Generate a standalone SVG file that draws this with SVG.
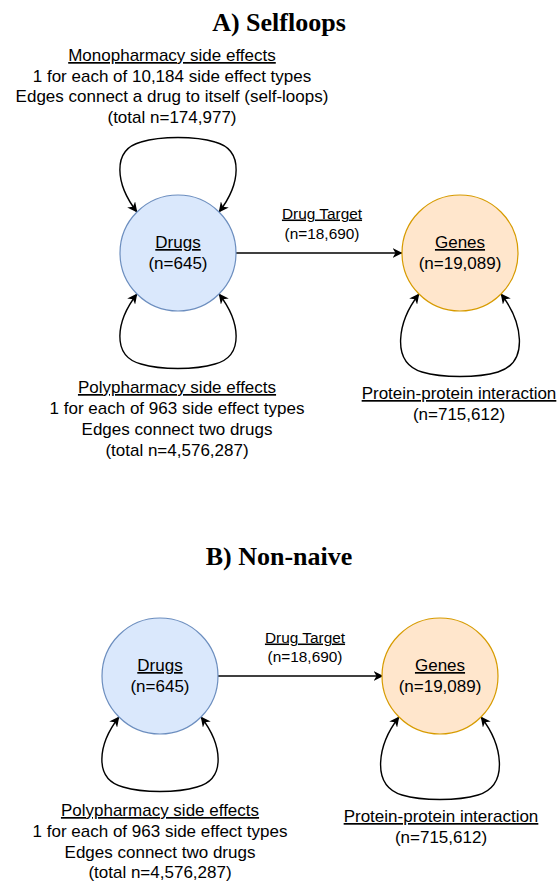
<svg xmlns="http://www.w3.org/2000/svg" width="560" height="882" viewBox="0 0 560 882">
  <style>
    .title { font-family: "Liberation Serif", "Times New Roman", serif; font-weight: bold; font-size: 26px; fill: #000; text-anchor: middle; }
    .lbl { font-family: "Liberation Sans", Arial, Helvetica, sans-serif; font-size: 17px; fill: #000; text-anchor: middle; }
    .small { font-family: "Liberation Sans", Arial, Helvetica, sans-serif; font-size: 15.4px; fill: #000; text-anchor: middle; }
    .u { text-decoration: underline; }
    .drug { fill: #dae8fc; stroke: #6c8ebf; stroke-width: 1.2; }
    .gene { fill: #ffe6cc; stroke: #d79b00; stroke-width: 1.2; }
    .edge { fill: none; stroke: #000; stroke-width: 1.4; }
  </style>
  <defs>
    <marker id="arrow" viewBox="0 0 10 10" refX="9.5" refY="5" markerWidth="10" markerHeight="10" markerUnits="userSpaceOnUse" orient="auto-start-reverse">
      <path d="M0,0 L10,5 L0,10 L3,5 Z" fill="#000"/>
    </marker>
  </defs>
  <rect width="560" height="882" fill="#fff"/>

  <!-- Panel A -->
  <text class="title" x="279" y="31">A) Selfloops</text>

  <g id="connectors-a">
    <!-- monopharmacy self-loop -->
    <path class="edge" d="M219,212 C240,185 245,150 215,142 C195,136 161,136 141,142 C111,150 116,185 137,212" marker-start="url(#arrow)" marker-end="url(#arrow)"/>
    <!-- polypharmacy loop -->
    <path class="edge" d="M219,294 C240,321 245,356 215,364 C195,370 161,370 141,364 C111,356 116,321 137,294" marker-start="url(#arrow)" marker-end="url(#arrow)"/>
    <!-- drug target -->
    <path class="edge" d="M236,253 L402,253" marker-end="url(#arrow)"/>
    <!-- protein-protein interaction loop -->
    <path class="edge" d="M501,294 C522,321 530,362 498,372 C478,378 442,378 422,372 C390,362 398,321 419,294" marker-start="url(#arrow)" marker-end="url(#arrow)"/>
  </g>

  <g id="drugs-a">
    <circle class="drug" cx="178" cy="253" r="58"/>
    <text class="lbl" x="178" y="248"><tspan class="u">Drugs</tspan></text>
    <text class="lbl" x="178" y="269">(n=645)</text>
  </g>
  <g id="genes-a">
    <circle class="gene" cx="460" cy="253" r="58"/>
    <text class="lbl" x="460" y="248"><tspan class="u">Genes</tspan></text>
    <text class="lbl" x="460" y="269">(n=19,089)</text>
  </g>

  <g id="labels-a">
    <text class="lbl" x="172" y="61"><tspan class="u">Monopharmacy side effects</tspan></text>
    <text class="lbl" x="172" y="81.7">1 for each of 10,184 side effect types</text>
    <text class="lbl" x="172" y="102.4">Edges connect a drug to itself (self-loops)</text>
    <text class="lbl" x="172" y="123">(total n=174,977)</text>

    <text class="small" x="322" y="218.5"><tspan class="u">Drug Target</tspan></text>
    <text class="small" x="322" y="238.5">(n=18,690)</text>

    <text class="lbl" x="177" y="393"><tspan class="u">Polypharmacy side effects</tspan></text>
    <text class="lbl" x="177" y="414">1 for each of 963 side effect types</text>
    <text class="lbl" x="177" y="435">Edges connect two drugs</text>
    <text class="lbl" x="177" y="456">(total n=4,576,287)</text>

    <text class="lbl" x="459" y="399"><tspan class="u">Protein-protein interaction</tspan></text>
    <text class="lbl" x="459" y="419.5">(n=715,612)</text>
  </g>

  <!-- Panel B -->
  <text class="title" x="279" y="565">B) Non-naive</text>

  <g id="connectors-b">
    <path class="edge" d="M201,717 C222,744 227,779 197,787 C177,793 143,793 123,787 C93,779 98,744 119,717" marker-start="url(#arrow)" marker-end="url(#arrow)"/>
    <path class="edge" d="M218,676 L383,676" marker-end="url(#arrow)"/>
    <path class="edge" d="M481,717 C502,744 510,785 478,795 C458,801 422,801 402,795 C370,785 378,744 399,717" marker-start="url(#arrow)" marker-end="url(#arrow)"/>
  </g>

  <g id="drugs-b">
    <circle class="drug" cx="160" cy="676" r="58"/>
    <text class="lbl" x="160" y="671"><tspan class="u">Drugs</tspan></text>
    <text class="lbl" x="160" y="692">(n=645)</text>
  </g>
  <g id="genes-b">
    <circle class="gene" cx="440" cy="676" r="58"/>
    <text class="lbl" x="440" y="671"><tspan class="u">Genes</tspan></text>
    <text class="lbl" x="440" y="692">(n=19,089)</text>
  </g>

  <g id="labels-b">
    <text class="small" x="305" y="642.5"><tspan class="u">Drug Target</tspan></text>
    <text class="small" x="305" y="662">(n=18,690)</text>

    <text class="lbl" x="160" y="816"><tspan class="u">Polypharmacy side effects</tspan></text>
    <text class="lbl" x="160" y="837">1 for each of 963 side effect types</text>
    <text class="lbl" x="160" y="857.5">Edges connect two drugs</text>
    <text class="lbl" x="160" y="878">(total n=4,576,287)</text>

    <text class="lbl" x="441" y="822"><tspan class="u">Protein-protein interaction</tspan></text>
    <text class="lbl" x="441" y="843">(n=715,612)</text>
  </g>
</svg>
